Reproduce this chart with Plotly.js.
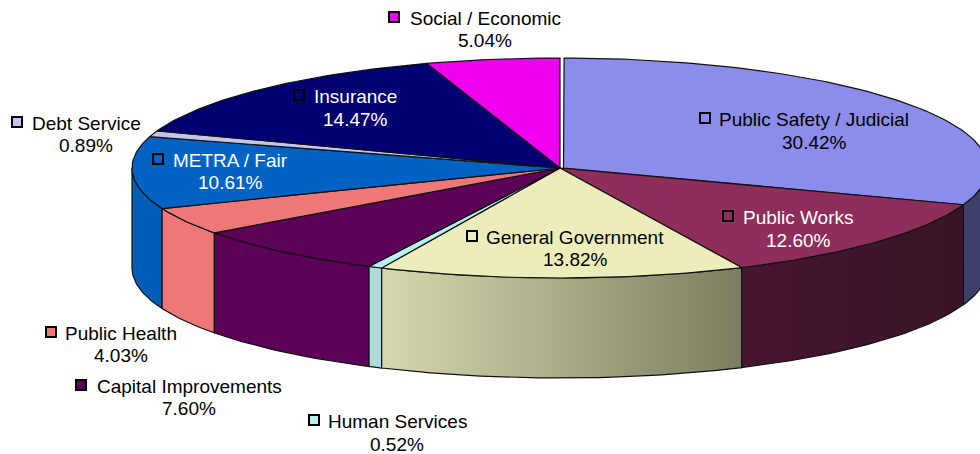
<!DOCTYPE html>
<html>
<head>
<meta charset="utf-8">
<script src="https://cdn.plot.ly/plotly-3.0.1.min.js"></script>
<style>html,body{margin:0;padding:0;background:#fff}#chart{width:980px;height:454px}</style>
</head>
<body>
<div id="chart"></div>
<script>
// Data (clockwise from 12 o'clock)
const categories = ["Public Safety / Judicial","Public Works","General Government","Human Services","Capital Improvements","Public Health","METRA / Fair","Debt Service","Insurance","Social / Economic"];
const shares = [30.42,12.60,13.82,0.52,7.60,4.03,10.61,0.89,14.47,5.04];

// Styles
const topColors = ["#8C8CEC","#8D2E5B","#EDEDBB","#BBEEEE","#5C0058","#EE7777","#0063C4","#C4C4F0","#000072","#EE00EE"];
const sideColors = ["#3F3F6B","#3A1528","#D6D6AC","#AEDADA","#5C0058","#EE7777","#005DB5","#C4C4F0","#000072","#EE00EE"];
const sideGradients = {2:["#D8D8AE","#7C7C60"],1:["#47152F","#381426"]};
const labelColors = ["#000","#fff","#000","#000","#000","#000","#fff","#000","#fff","#000"];

// Layout: label centres, key positions
const labelX = [814,798,575,397,189,121,230,86,355,485];
const nameY = [119,217,237,421,386,333,160,123,96,18];
const valueY = [142,240,259,444,408,355,182,145,119,40];
const keyX = [705,728,472,314,81,51,158,17,299,394];
const keyY = [118,216,236,420,385,332,159,122,95,17];

const cx=560, cy=168, rx=428, ry=110, depth=100;
const rad = d => d*Math.PI/180;
const px = t => cx+rx*Math.sin(rad(t));
const py = t => cy-ry*Math.cos(rad(t));
function arc(a,b,dy){
  const n=Math.max(2,Math.ceil(Math.abs(b-a)));
  const xs=[],ys=[];
  for(let i=0;i<=n;i++){const t=a+(b-a)*i/n;xs.push(px(t));ys.push(py(t)+dy);}
  return [xs,ys];
}
let cum=0;
const ranges=shares.map(s=>{const a=cum*3.6;cum+=s;return [a,cum*3.6];});

const traces=[];
const line={color:"#111",width:1.2};
// Sides (front half only)
[0,9,8,7,6,5,4,3,2,1].forEach(i=>{
  const a=Math.max(ranges[i][0],90), b=Math.min(ranges[i][1],270);
  if(b<=a) return;
  const [x1,y1]=arc(a,b,0), [x2,y2]=arc(b,a,depth);
  const tr={type:"scatter",mode:"lines",x:x1.concat(x2,[x1[0]]),y:y1.concat(y2,[y1[0]]),
    fill:"toself",fillcolor:sideColors[i],line:line,hoverinfo:"skip",showlegend:false};
  if(sideGradients[i]) tr.fillgradient={type:"horizontal",colorscale:[[0,sideGradients[i][0]],[1,sideGradients[i][1]]]};
  traces.push(tr);
});
// Tops
shares.forEach((s,i)=>{
  let a=ranges[i][0], b=ranges[i][1], ax=cx;
  if(i===0){ a+=0.55; ax=cx+3.5; }
  const [xs,ys]=arc(a,b,0);
  traces.push({type:"scatter",mode:"lines",x:[ax].concat(xs,[ax]),y:[cy].concat(ys,[cy]),
    fill:"toself",fillcolor:topColors[i],line:line,hoverinfo:"skip",showlegend:false,name:categories[i]});
});
// Label keys
traces.push({type:"scatter",mode:"markers",x:keyX,y:keyY,hoverinfo:"skip",showlegend:false,
  marker:{symbol:"square",size:10,color:topColors,line:{color:"#000",width:2}}});

const labelFont=i=>({family:"Liberation Sans, Arial, sans-serif",size:19,color:labelColors[i]});
const annotations=[];
categories.forEach((c,i)=>{
  annotations.push({x:labelX[i],y:nameY[i],xref:"x",yref:"y",xanchor:"center",yanchor:"middle",showarrow:false,text:c,font:labelFont(i)});
  annotations.push({x:labelX[i],y:valueY[i],xref:"x",yref:"y",xanchor:"center",yanchor:"middle",showarrow:false,text:shares[i].toFixed(2)+"%",font:labelFont(i)});
});

Plotly.newPlot("chart",traces,{
  width:980,height:454,margin:{l:0,r:0,t:0,b:0,pad:0},
  paper_bgcolor:"#fff",plot_bgcolor:"#fff",showlegend:false,
  xaxis:{range:[0,980],visible:false,fixedrange:true},
  yaxis:{range:[454,0],visible:false,fixedrange:true},
  annotations:annotations
},{displayModeBar:false,staticPlot:true});
</script>
</body>
</html>
